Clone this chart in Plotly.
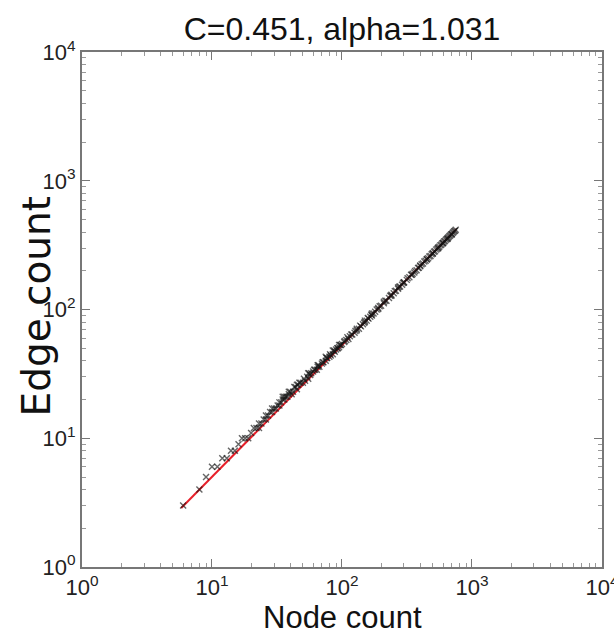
import plotly.graph_objects as go

title_text = "C=0.451, alpha=1.031"

# scatter data: node count vs edge count
node_count = [6, 8, 9, 10, 11, 12, 13, 14, 15, 16, 17, 18, 19, 20, 22, 23, 24, 25, 26, 27,
              28, 29, 30, 31, 32, 33, 34, 35, 36, 37, 38, 39, 40, 41, 42, 44, 45, 46, 48, 50,
              52, 54, 55, 57, 58, 60, 62, 64, 65, 67, 70, 72, 75, 77, 80, 82, 85, 88, 90, 93,
              95, 98, 100, 104, 108, 112, 115, 120, 125, 130, 135, 140, 145, 150, 155, 160, 165, 170, 175, 180,
              190, 200, 210, 220, 230, 240, 250, 260, 270, 280, 290, 300, 315, 330, 345, 360, 375, 390, 400, 420,
              440, 460, 480, 500, 520, 540, 560, 580, 600, 620, 640, 660, 680, 700, 720, 740, 750,
              35, 45, 55, 65, 75, 85, 95, 110, 130, 150, 170, 190, 210, 240, 270, 300, 350, 400, 450, 500, 550, 600, 650, 700,
              105, 118, 127, 138, 148, 158, 168, 185, 195, 215, 235, 255, 275, 295, 320, 340, 365, 385, 410, 430,
              450, 470, 490, 510, 530, 550, 570, 590, 610, 630, 650, 670, 690, 710, 730,
              21, 23, 26, 29, 33, 36, 39, 43, 47, 51, 56, 61, 66, 71, 76, 81, 87, 92, 97]
edge_count = [3, 4, 5, 6, 6, 7, 7, 8, 8, 9, 10, 10, 10, 11, 12, 12, 13, 14, 14, 15,
              16, 16, 17, 17, 18, 19, 19, 20, 20, 21, 21, 22, 23, 22, 23, 25, 24, 26, 27, 27,
              28, 30, 29, 31, 32, 33, 34, 34, 36, 36, 38, 39, 40, 42, 43, 44, 45, 47, 49, 50,
              51, 53, 54, 56, 58, 59, 62, 64, 66, 69, 71, 74, 77, 80, 82, 85, 88, 90, 93, 96,
              101, 107, 112, 117, 123, 128, 134, 140, 145, 151, 156, 162, 170, 178, 186, 194, 202, 211, 217, 228,
              239, 250, 261, 273, 284, 296, 307, 318, 330, 341, 353, 364, 376, 387, 398, 410, 416,
              21, 26, 32, 37, 43, 48, 53, 61, 71, 82, 93, 103, 115, 130, 148, 163, 190, 220, 245, 272, 299, 327, 355, 382,
              57, 64, 68, 75, 79, 86, 91, 100, 106, 117, 128, 139, 150, 161, 175, 186, 199, 210, 225, 236,
              247, 258, 269, 281, 292, 303, 315, 326, 337, 349, 360, 371, 383, 394, 405,
              12, 13, 15, 17, 18, 21, 23, 25, 27, 29, 32, 34, 37, 39, 42, 45, 48, 50, 53]

# fitted power-law line endpoints
fit_x = [5.8, 760]
fit_y = [2.87, 421]

axis_tickvals = [1, 10, 100, 1000, 10000]
axis_ticktext = ["10<sup>0</sup>", "10<sup>1</sup>", "10<sup>2</sup>", "10<sup>3</sup>", "10<sup>4</sup>"]
minor_vals = [m * 10 ** d for d in range(4) for m in range(2, 10)]

sans = "Liberation Sans, Arial, sans-serif"

fig = go.Figure()
fig.add_trace(go.Scatter(x=fit_x, y=fit_y, mode="lines",
                         line=dict(color="#e8202a", width=2), showlegend=False))
fig.add_trace(go.Scatter(x=node_count, y=edge_count, mode="markers",
                         marker=dict(symbol="x-thin-open", size=6, color="rgba(20,20,20,0.65)",
                                     line=dict(color="rgba(20,20,20,0.65)", width=1.4)),
                         showlegend=False))

axis_common = dict(
    type="log", range=[0, 4.0005], showgrid=False, zeroline=False, automargin=False,
    showline=True, linecolor="#777", linewidth=2, mirror="allticks",
    ticks="inside", ticklen=8, tickwidth=1, tickcolor="#777",
    tickvals=axis_tickvals, ticktext=axis_ticktext, ticklabeloverflow="allow",
    tickfont=dict(family=sans, size=22, color="#222"),
    minor=dict(ticks="inside", ticklen=4, tickcolor="#999", tickvals=minor_vals),
)

fig.update_layout(
    width=614, height=643,
    margin=dict(l=82, r=12, t=52, b=76),
    paper_bgcolor="white", plot_bgcolor="white",
    title=dict(text=title_text, x=0.5, xref="paper", y=0.955, yref="container",
               xanchor="center", yanchor="middle",
               font=dict(family=sans, size=32, color="#111")),
    xaxis=dict(**axis_common),
    yaxis=dict(**axis_common),
    annotations=[
        dict(text="Node count", xref="paper", yref="paper", x=0.5, y=0, yshift=-50,
             xanchor="center", yanchor="middle", showarrow=False,
             font=dict(family=sans, size=31, color="#111")),
        dict(text="Edge count", xref="paper", yref="paper", x=0, y=0.5, xshift=-46, yshift=3,
             xanchor="center", yanchor="middle", showarrow=False, textangle=-90,
             font=dict(family="DejaVu Sans, sans-serif", size=39, color="#111")),
    ],
)

fig.write_html("out.html", config={"displayModeBar": False},
               post_script="document.body.style.margin='0';")
